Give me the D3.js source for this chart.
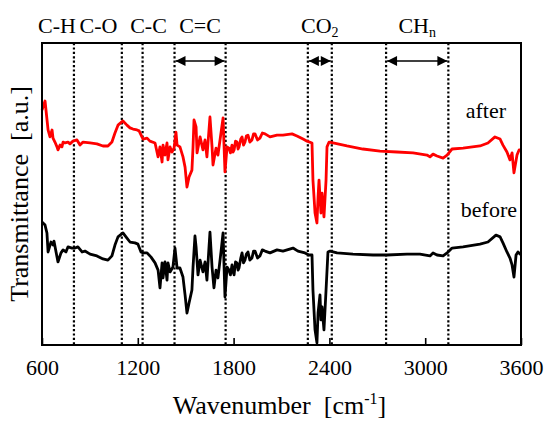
<!DOCTYPE html>
<html>
<head>
<meta charset="utf-8">
<script src="https://cdn.jsdelivr.net/npm/d3@7"></script>
<style>
  html, body { margin: 0; padding: 0; background: #fff; }
  svg { display: block; font-family: "Liberation Serif", "Times New Roman", serif; }
</style>
</head>
<body>
<svg id="chart" width="548" height="422"></svg>
<script>
// ---------------- DATA ----------------
const xTicks = [600, 1200, 1800, 2400, 3000, 3600];

const afterWavenumber = [600,619,638,650,663,669,681,694,700,713,725,732,744,763,775,794,819,838,857,901,944,982,1013,1038,1057,1076,1107,1132,1151,1170,1195,1208,1226,1233,1258,1276,1308,1327,1339,1352,1358,1370,1383,1389,1402,1414,1427,1439,1446,1464,1483,1496,1508,1521,1539,1546,1552,1565,1571,1590,1608,1621,1633,1652,1665,1671,1690,1702,1721,1734,1746,1759,1771,1780,1790,1797,1803,1812,1821,1828,1834,1845,1853,1862,1871,1880,1890,1902,1915,1925,1934,1950,1965,1980,1997,2028,2072,2109,2166,2197,2235,2260,2291,2297,2310,2322,2329,2335,2347,2354,2366,2379,2385,2398,2423,2510,2610,2717,2823,2924,3011,3030,3049,3074,3112,3137,3168,3237,3343,3393,3437,3469,3487,3512,3531,3544,3556,3575,3588,3600];
const afterTransmittance = [77.8,80.8,71.2,68.9,71.2,68.5,67.2,65.6,64.6,66.2,65.6,67.2,66.9,67.2,66.6,67.5,67.9,66.2,67.2,66.9,66.6,65.9,65.9,67.2,70.2,72.8,74.2,72.8,71.9,71.5,71.2,70.9,68.9,68.2,68.5,67.5,66.9,62.3,65.6,60.6,66.2,62.9,66.9,61.3,65.6,63.9,65.2,70.5,66.2,65.6,62.3,58.9,52.3,55.6,57.9,65.6,74.5,72.2,63.6,68.9,64.6,67.9,62.3,75.5,65.6,59.6,65.2,62.9,70.2,75.2,57.3,65.6,65.2,63.6,66.2,63.9,64.6,67.5,67.2,64.9,65.6,68.2,68.9,66.2,67.2,69.2,69.5,67.2,67.9,69.9,69.9,67.9,68.5,70.2,69.9,68.9,69.5,69.5,69.9,69.2,68.2,67.5,66.9,54.6,43.7,40.4,49.0,54.6,43.7,50.3,42.4,54.6,65.6,67.2,66.9,65.9,64.9,64.2,63.9,63.6,62.9,62.3,63.2,62.6,61.9,62.9,64.9,65.2,65.9,66.9,68.9,68.2,66.2,63.9,61.3,63.6,57.0,62.9,64.6,64.6];

const beforeWavenumber = [600,619,631,638,656,669,675,688,700,719,732,750,763,788,807,825,851,869,901,944,982,1013,1038,1057,1076,1107,1132,1151,1182,1201,1220,1233,1258,1283,1308,1327,1339,1352,1358,1370,1383,1389,1402,1420,1433,1446,1464,1483,1496,1508,1521,1539,1546,1558,1565,1577,1590,1608,1621,1633,1652,1665,1677,1690,1702,1721,1734,1746,1759,1771,1780,1790,1797,1803,1812,1821,1828,1834,1845,1853,1862,1871,1880,1890,1902,1915,1925,1934,1950,1965,1980,1997,2028,2072,2109,2172,2203,2247,2272,2291,2297,2310,2322,2329,2341,2347,2354,2366,2379,2391,2404,2448,2548,2673,2761,2886,2967,3030,3049,3074,3112,3137,3168,3237,3343,3393,3443,3469,3487,3512,3531,3544,3556,3569,3581,3594,3600];
const beforeTransmittance = [40.7,39.7,37.1,30.8,34.1,33.1,34.4,30.8,27.5,30.5,31.5,30.8,32.5,32.1,32.1,32.5,30.8,31.1,30.1,29.5,28.5,28.1,29.5,33.1,35.8,37.1,35.4,34.1,33.8,33.4,30.8,30.5,30.5,29.1,27.2,24.8,18.9,27.2,22.2,27.5,21.5,27.2,24.2,25.8,32.1,25.5,25.5,22.5,16.6,10.6,13.9,18.2,25.8,36.1,32.5,23.2,28.1,24.2,27.5,21.5,37.4,25.8,18.9,24.8,22.2,30.8,37.1,15.9,25.8,24.8,23.2,26.5,24.2,23.2,27.5,27.2,24.8,25.5,28.8,30.5,27.2,28.1,30.1,30.8,28.1,28.8,31.1,31.1,28.8,29.5,31.5,31.1,30.5,31.5,31.1,32.1,31.1,30.5,29.8,29.8,18.2,5.0,0.7,10.6,16.6,8.3,12.6,5.0,18.2,30.8,31.1,30.5,30.1,29.8,29.8,30.1,30.1,29.5,30.5,29.8,29.5,30.5,32.1,32.5,33.4,34.1,36.4,35.8,33.8,30.8,28.8,26.5,22.5,29.8,30.8,30.1,30.5];

// band marker lines (wavenumber)
const bandLines = [800, 1100, 1230, 1430, 1750, 2265, 2415, 2755, 3145];
// double arrows spanning bands [from, to]
const bandArrowFrom = [1430, 2265, 2755];
const bandArrowTo   = [1750, 2415, 3145];
// band labels
const bandLabelMain = ["C-H", "C-O", "C-C", "C=C", "CO", "CH"];
const bandLabelSub  = ["", "", "", "", "2", "n"];
const bandLabelAt   = [694, 954, 1267, 1590, 2340, 2950];

const seriesNames = ["after", "before"];

// ---------------- LAYOUT ----------------
const svg = d3.select("#chart");
const M = { left: 42, right: 521, top: 43, bottom: 345 };

const x = d3.scaleLinear().domain([600, 3600]).range([M.left, M.right]);
const y = d3.scaleLinear().domain([0, 100]).range([M.bottom, M.top]);

// dotted band lines
svg.append("g").selectAll("line").data(bandLines).join("line")
  .attr("x1", d => x(d)).attr("x2", d => x(d))
  .attr("y1", M.top).attr("y2", M.bottom)
  .attr("stroke", "#000").attr("stroke-width", 2.2)
  .attr("stroke-dasharray", "2.2,2.2");

// spectra
const line = d3.line().x(d => x(d[0])).y(d => y(d[1]));
const afterData = d3.zip(afterWavenumber, afterTransmittance);
const beforeData = d3.zip(beforeWavenumber, beforeTransmittance);

svg.append("path").datum(beforeData)
  .attr("d", line).attr("fill", "none")
  .attr("stroke", "#000").attr("stroke-width", 2.8).attr("stroke-linejoin", "round");
svg.append("path").datum(afterData)
  .attr("d", line).attr("fill", "none")
  .attr("stroke", "#ff0000").attr("stroke-width", 2.8).attr("stroke-linejoin", "round");

// frame
svg.append("rect")
  .attr("x", M.left).attr("y", M.top)
  .attr("width", M.right - M.left).attr("height", M.bottom - M.top)
  .attr("fill", "none").attr("stroke", "#000").attr("stroke-width", 2);

// bottom axis (inward ticks)
const xAxis = d3.axisBottom(x).tickValues(xTicks).tickSize(-7).tickPadding(14).tickFormat(d3.format("d"));
const gx = svg.append("g").attr("transform", `translate(0,${M.bottom})`).call(xAxis);
gx.select(".domain").remove();
gx.selectAll(".tick line").attr("stroke", "#000").attr("stroke-width", 1.6);
gx.selectAll(".tick text")
  .attr("font-family", "Liberation Serif, Times New Roman, serif")
  .attr("font-size", 22).attr("fill", "#000");

// arrows
const defs = svg.append("defs");
["start", "end"].forEach(k => {
  defs.append("marker").attr("id", "arr-" + k)
    .attr("viewBox", "0 0 10 10").attr("refX", 10).attr("refY", 5)
    .attr("markerWidth", 11).attr("markerHeight", 10)
    .attr("markerUnits", "userSpaceOnUse")
    .attr("orient", k === "end" ? "auto" : "auto-start-reverse")
    .append("path").attr("d", "M0,0 L10,5 L0,10 Z").attr("fill", "#000");
});
const arrowY = 61;
svg.append("g").selectAll("line").data(d3.range(bandArrowFrom.length)).join("line")
  .attr("x1", i => x(bandArrowFrom[i]) + 1).attr("x2", i => x(bandArrowTo[i]) - 1)
  .attr("y1", arrowY).attr("y2", arrowY)
  .attr("stroke", "#000").attr("stroke-width", 1.5)
  .attr("marker-start", "url(#arr-start)").attr("marker-end", "url(#arr-end)");

// band labels
const lbl = svg.append("g").selectAll("text").data(d3.range(bandLabelMain.length)).join("text")
  .attr("x", i => x(bandLabelAt[i])).attr("y", 33)
  .attr("text-anchor", "middle").attr("font-size", 22).attr("fill", "#000");
lbl.append("tspan").text(i => bandLabelMain[i]);
lbl.append("tspan").attr("font-size", 14).attr("dy", 4).text(i => bandLabelSub[i]);

// series labels
svg.append("text").attr("x", 506).attr("y", 118).attr("text-anchor", "end")
  .attr("font-size", 22).text(seriesNames[0]);
svg.append("text").attr("x", 517).attr("y", 217).attr("text-anchor", "end")
  .attr("font-size", 22).text(seriesNames[1]);

// axis titles
const xt = svg.append("text").attr("x", (M.left + M.right) / 2 - 2).attr("y", 414)
  .attr("text-anchor", "middle").attr("font-size", 26);
xt.append("tspan").text("Wavenumber\u00a0\u00a0[cm");
xt.append("tspan").attr("font-size", 16).attr("dy", -10).text("-1");
xt.append("tspan").attr("dy", 10).text("]");

svg.append("text")
  .attr("transform", `translate(28,${(M.top + M.bottom) / 2}) rotate(-90)`)
  .attr("text-anchor", "middle").attr("font-size", 26)
  .text("Transmittance\u00a0\u00a0[a.u.]");
</script>
</body>
</html>
